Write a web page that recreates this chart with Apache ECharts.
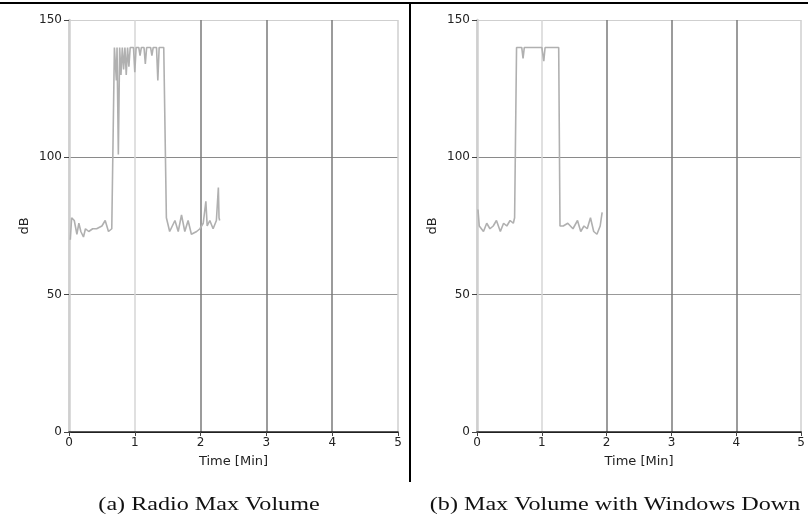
<!DOCTYPE html>
<html>
<head>
<meta charset="utf-8">
<script src="https://cdn.jsdelivr.net/npm/echarts@6/dist/echarts.min.js"></script>
<style>
  html, body { margin: 0; padding: 0; background: #fff; }
  #chart { width: 808px; height: 521px; }
</style>
</head>
<body>
<div id="chart"></div>
<script>
// (a) radio max volume
var timeA = [0.02, 0.04, 0.08, 0.12, 0.15, 0.18, 0.22, 0.25, 0.30, 0.36, 0.42, 0.50, 0.55, 0.60, 0.65,
  0.69, 0.72, 0.73, 0.75, 0.77, 0.79, 0.81, 0.83, 0.85, 0.87, 0.89, 0.91, 0.93, 0.98, 1.00, 1.02,
  1.06, 1.08, 1.10, 1.14, 1.16, 1.18, 1.24, 1.26, 1.28, 1.33, 1.35, 1.37, 1.44,
  1.48, 1.53, 1.61, 1.66, 1.71, 1.76, 1.81, 1.86, 1.94, 1.99, 2.04, 2.08, 2.10, 2.14, 2.19, 2.24, 2.27, 2.28, 2.29];
var dbA = [70, 78, 77, 72, 76, 73, 71, 74, 73, 74, 74, 75, 77, 73, 74,
  140, 128, 140, 101, 140, 130, 140, 132, 140, 130, 140, 133, 140, 140, 131, 140,
  140, 137, 140, 140, 134, 140, 140, 137, 140, 140, 128, 140, 140,
  78, 73, 77, 73, 79, 73, 77, 72, 73, 74, 76, 84, 75, 77, 74, 77, 89, 78, 77];

// (b) max volume with windows down
var timeB = [0.015, 0.035, 0.10, 0.15, 0.20, 0.25, 0.30, 0.36, 0.41, 0.46, 0.51, 0.56, 0.58,
  0.61, 0.69, 0.71, 0.73, 1.00, 1.03, 1.05, 1.26,
  1.28, 1.33, 1.40, 1.48, 1.55, 1.60, 1.65, 1.70, 1.75, 1.80, 1.85, 1.90, 1.93];
var dbB = [81, 75, 73, 76, 74, 75, 77, 73, 76, 75, 77, 76, 78,
  140, 140, 136, 140, 140, 135, 140, 140,
  75, 75, 76, 74, 77, 73, 75, 74, 78, 73, 72, 75, 80];

var captions = ['(a) Radio Max Volume', '(b) Max Volume with Windows Down'];

function pairs(t, v) {
  return t.map(function (x, i) { return [x, v[i]]; });
}

var labelFont = { fontFamily: 'DejaVu Sans', fontSize: 12, color: '#222' };

function xAxisFor(gi) {
  return {
    gridIndex: gi, type: 'value', min: 0, max: 5, interval: 1,
    name: 'Time [Min]', nameLocation: 'middle', nameGap: 23,
    nameTextStyle: { fontFamily: 'DejaVu Sans', fontSize: 13, color: '#222' },
    axisLine: { show: true, lineStyle: { color: '#222', width: 1.5 } },
    axisTick: { show: true, length: 4, lineStyle: { color: '#444' } },
    axisLabel: Object.assign({ margin: 5 }, labelFont),
    splitLine: { show: true, lineStyle: { color: ['#cfcfcf', '#d6d6d6', '#7a7a7a', '#7a7a7a', '#7a7a7a', '#cfcfcf'], width: 1.5 } }
  };
}
function yAxisFor(gi) {
  return {
    gridIndex: gi, type: 'value', min: 0, max: 150, interval: 50,
    name: 'dB', nameLocation: 'middle', nameGap: 38,
    nameTextStyle: { fontFamily: 'DejaVu Sans', fontSize: 13, color: '#222' },
    axisLine: { show: true, lineStyle: { color: '#cfcfcf', width: 2.5 } },
    axisTick: { show: true, length: 5, lineStyle: { color: '#444' } },
    axisLabel: Object.assign({ margin: 7 }, labelFont),
    splitLine: { show: true, lineStyle: { color: ['#222', '#999', '#8a8a8a', '#cfcfcf'], width: 1.2 } }
  };
}

var chart = echarts.init(document.getElementById('chart'), null, { renderer: 'canvas' });
chart.setOption({
  backgroundColor: '#fff',
  animation: false,
  grid: [
    { left: 69, right: 410, top: 20, bottom: 89 },
    { left: 477, right: 4, top: 20, bottom: 89 }
  ],
  xAxis: [xAxisFor(0), xAxisFor(1)],
  yAxis: [yAxisFor(0), yAxisFor(1)],
  series: [
    { type: 'line', xAxisIndex: 0, yAxisIndex: 0, data: pairs(timeA, dbA), showSymbol: false,
      lineStyle: { color: '#b0b0b0', width: 1.6 } },
    { type: 'line', xAxisIndex: 1, yAxisIndex: 1, data: pairs(timeB, dbB), showSymbol: false,
      lineStyle: { color: '#b0b0b0', width: 1.6 } }
  ],
  graphic: [
    { type: 'line', shape: { x1: 0, y1: 3, x2: 808, y2: 3 }, style: { stroke: '#000', lineWidth: 2 } },
    { type: 'line', shape: { x1: 410, y1: 3, x2: 410, y2: 482 }, style: { stroke: '#000', lineWidth: 2 } },
    { type: 'text', x: 209, y: 505, scaleX: 1.34,
      style: { text: captions[0], font: '18px "Liberation Serif"', fill: '#111', textAlign: 'center', textVerticalAlign: 'middle' } },
    { type: 'text', x: 615, y: 505, scaleX: 1.34,
      style: { text: captions[1], font: '18px "Liberation Serif"', fill: '#111', textAlign: 'center', textVerticalAlign: 'middle' } }
  ]
});
</script>
</body>
</html>
